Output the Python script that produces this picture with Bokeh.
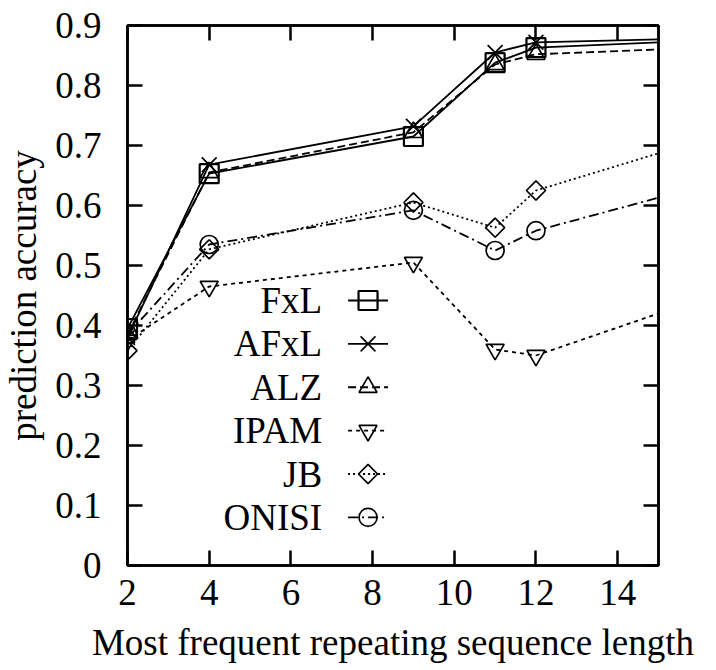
from bokeh.plotting import figure
from bokeh.models import Range1d, FixedTicker, LinearAxis
from bokeh.core.properties import value
from bokeh.embed import file_html
from bokeh.resources import INLINE
import math

# ---------------- data ----------------
x_len = [2, 4, 9, 11, 12, 15]
fxl   = [0.395, 0.653, 0.715, 0.838, 0.863, 0.872]
afxl  = [0.380, 0.668, 0.732, 0.855, 0.872, 0.877]
alz   = [0.385, 0.655, 0.722, 0.835, 0.852, 0.860]
ipam  = [0.375, 0.465, 0.505, 0.360, 0.350, 0.420]
jb    = [0.358, 0.527, 0.605, 0.563, 0.625, 0.687]
onisi = [0.385, 0.535, 0.592, 0.525, 0.558, 0.613]

series_names = ["FxL", "AFxL", "ALZ", "IPAM", "JB", "ONISI"]

x_ticks = [2, 4, 6, 8, 10, 12, 14]
x_tick_labels = ["2", "4", "6", "8", "10", "12", "14"]
y_ticks = [0, 0.1, 0.2, 0.3, 0.4, 0.5, 0.6, 0.7, 0.8, 0.9]
y_tick_labels = ["0", "0.1", "0.2", "0.3", "0.4", "0.5", "0.6", "0.7", "0.8", "0.9"]

x_label = "Most frequent repeating sequence length"
y_label = "prediction accuracy"

# ---------------- styles ----------------
FONT = "Liberation Serif"
FS = "37px"
styles = [
    dict(dash="solid",      marker="square",            size=19, angle=0.0, mlw=2.2),
    dict(dash="solid",      marker="x",                 size=21, angle=0.0, mlw=1.7),
    dict(dash="8 4",        marker="triangle",          size=18, angle=0.0, mlw=1.7),
    dict(dash="4 4",        marker="inverted_triangle", size=18, angle=0.0, mlw=1.7),
    dict(dash="2 3",        marker="square",            size=13.5, angle=math.pi / 4, mlw=1.7),
    dict(dash="10 4 2 4",   marker="circle",            size=18, angle=0.0, mlw=1.7),
]
all_series = [fxl, afxl, alz, ipam, jb, onisi]
n_marked = 5  # markers drawn at the measured points inside the frame

p = figure(width=716, height=670, output_backend="svg", toolbar_location=None,
           x_range=Range1d(2, 15), y_range=Range1d(0, 0.9),
           min_border_left=126, min_border_right=58, min_border_top=25,
           min_border_bottom=105)
p.background_fill_color = "white"
p.border_fill_color = "white"
p.grid.visible = False
p.outline_line_color = "black"
p.outline_line_width = 2.5

def style_axis(ax):
    ax.axis_line_color = "black"
    ax.axis_line_width = 2.5
    ax.major_tick_in = 15
    ax.major_tick_out = 0
    ax.major_tick_line_width = 2.5
    ax.major_tick_line_color = "black"
    ax.minor_tick_line_color = None
    ax.major_label_text_font = FONT
    ax.major_label_text_font_style = "normal"
    ax.major_label_text_font_size = FS
    ax.major_label_text_color = "black"
    ax.axis_label_text_font = FONT
    ax.axis_label_text_font_size = FS
    ax.axis_label_text_font_style = "normal"
    ax.axis_label_text_color = "black"

xa = p.xaxis[0]
ya = p.yaxis[0]
xa.ticker = FixedTicker(ticks=x_ticks)
ya.ticker = FixedTicker(ticks=y_ticks)
xa.major_label_overrides = {t: l for t, l in zip(x_ticks, x_tick_labels)}
ya.major_label_overrides = {t: l for t, l in zip(y_ticks, y_tick_labels)}
style_axis(xa)
style_axis(ya)
xa.axis_label = x_label
ya.axis_label = y_label
xa.major_label_standoff = 14
xa.axis_label_standoff = 14
ya.major_label_standoff = 26
ya.axis_label_standoff = 8

# mirrored inward ticks on top and right (gnuplot style), no labels
top = LinearAxis(ticker=FixedTicker(ticks=x_ticks))
right = LinearAxis(ticker=FixedTicker(ticks=y_ticks))
for ax in (top, right):
    ax.axis_line_color = "black"
    ax.axis_line_width = 2.5
    ax.major_tick_in = 15
    ax.major_tick_out = 0
    ax.major_tick_line_width = 2.5
    ax.major_tick_line_color = "black"
    ax.minor_tick_line_color = None
    ax.major_label_text_font_size = "1px"
    ax.major_label_text_color = None
p.add_layout(top, "above")
p.add_layout(right, "right")

for ys, st in zip(all_series, styles):
    p.line(x_len, ys, line_color="black", line_width=1.8, line_dash=st["dash"])
    p.scatter(x_len[:n_marked], ys[:n_marked], marker=st["marker"], size=st["size"],
              angle=st["angle"], line_color="black", line_width=st["mlw"], fill_color=None)

# ---------------- legend (labels left of samples, gnuplot style) ----------------
leg_text_x = 6.765
leg_line_x0 = 7.40
leg_line_x1 = 8.378
leg_mark_x = 7.889
leg_y0 = 0.4417
leg_dy = 0.0723
leg_ys = [leg_y0 - i * leg_dy for i in range(len(series_names))]

p.text(x=[leg_text_x] * len(series_names), y=leg_ys, text=series_names,
       text_font=value(FONT), text_font_size=value(FS), text_font_style="normal",
       text_align="right", text_baseline="middle", text_color="black")
for yy, st in zip(leg_ys, styles):
    p.line([leg_line_x0, leg_line_x1], [yy, yy], line_color="black", line_width=1.8,
           line_dash=st["dash"])
    p.scatter([leg_mark_x], [yy], marker=st["marker"], size=st["size"], angle=st["angle"],
              line_color="black", line_width=st["mlw"], fill_color=None)

open("out.html", "w").write(file_html(p, INLINE))
